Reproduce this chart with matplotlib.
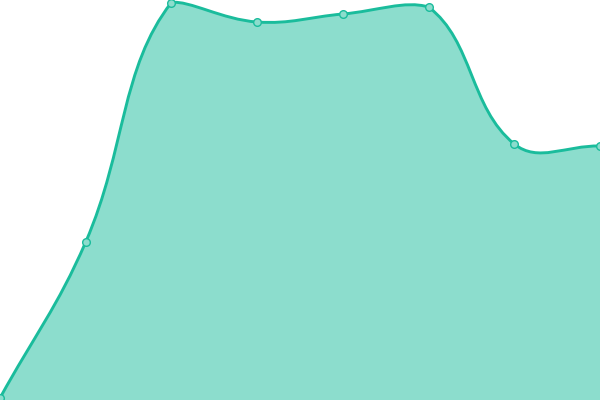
import numpy as np
import matplotlib
matplotlib.use('Agg')
import matplotlib.pyplot as plt
from matplotlib.path import Path
from matplotlib.patches import PathPatch

# one value per category, y scale runs 0..400
labels = ['A', 'B', 'C', 'D', 'E', 'F', 'G', 'H']
values = [2, 158, 397.5, 378, 386, 393, 256, 254]

LINE = '#1abc9c'
FILL = '#8cddcd'

def spline_controls(xs, ys, tension=0.4, top=400):
    # chart.js style cardinal spline control points, capped to the plot area
    n = len(xs)
    prev_cp = []
    next_cp = []
    for i in range(n):
        p0 = (xs[max(i - 1, 0)], ys[max(i - 1, 0)])
        p1 = (xs[i], ys[i])
        p2 = (xs[min(i + 1, n - 1)], ys[min(i + 1, n - 1)])
        d01 = np.hypot(p1[0] - p0[0], p1[1] - p0[1])
        d12 = np.hypot(p2[0] - p1[0], p2[1] - p1[1])
        tot = d01 + d12
        s01 = d01 / tot if tot else 0
        s12 = d12 / tot if tot else 0
        fa = tension * s01
        fb = tension * s12
        a = (p1[0] - fa * (p2[0] - p0[0]), p1[1] - fa * (p2[1] - p0[1]))
        b = (p1[0] + fb * (p2[0] - p0[0]), p1[1] + fb * (p2[1] - p0[1]))
        prev_cp.append((a[0], min(max(a[1], 0), top)))
        next_cp.append((b[0], min(max(b[1], 0), top)))
    return prev_cp, next_cp

fig = plt.figure(figsize=(6, 4), dpi=100)
ax = fig.add_axes([0, 0, 1, 1])

step = 600 / (len(values) - 1)
xs = [i * step for i in range(len(values))]
ys = values
pc, nc = spline_controls(xs, ys)

verts = [(xs[0], ys[0])]
codes = [Path.MOVETO]
for i in range(1, len(xs)):
    verts += [nc[i - 1], pc[i], (xs[i], ys[i])]
    codes += [Path.CURVE4] * 3

line_path = Path(verts, codes)
fill_verts = verts + [(xs[-1], 0), (xs[0], 0), (xs[0], ys[0])]
fill_codes = codes + [Path.LINETO, Path.LINETO, Path.CLOSEPOLY]
ax.add_patch(PathPatch(Path(fill_verts, fill_codes), facecolor=FILL, edgecolor='none'))
ax.add_patch(PathPatch(line_path, facecolor='none', edgecolor=LINE, linewidth=2.1))
ax.plot(xs, ys, 'o', markersize=5.5, markerfacecolor=FILL, markeredgecolor=LINE,
        markeredgewidth=1, clip_on=False)

ax.set_xlim(0, 600)
ax.set_ylim(0, 400)
ax.axis('off')

fig.savefig('out.png', dpi=100)
